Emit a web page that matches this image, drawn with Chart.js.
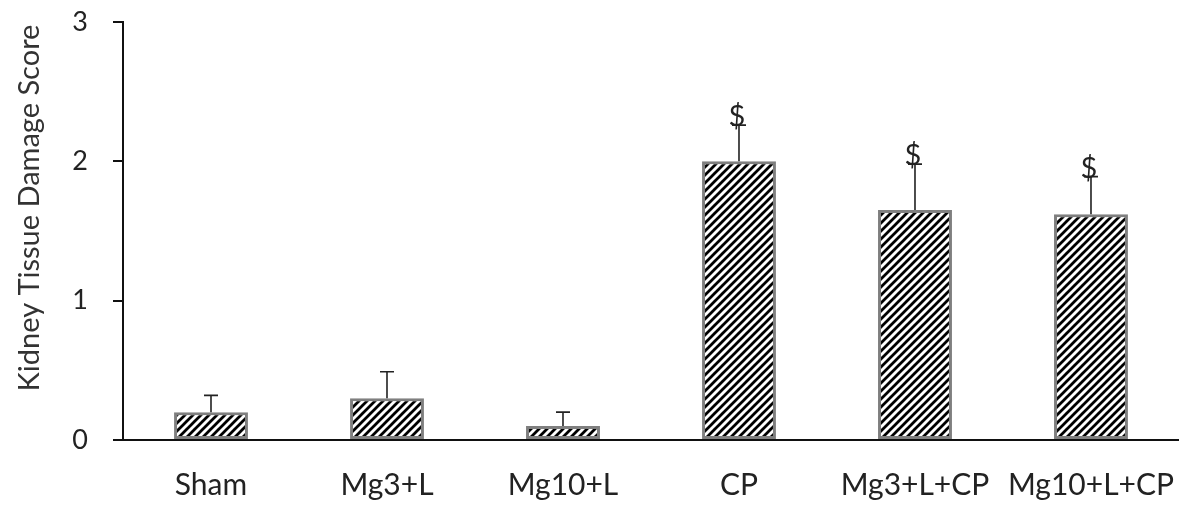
<!DOCTYPE html>
<html>
<head>
<meta charset="utf-8">
<script src="https://cdn.jsdelivr.net/npm/chart.js@4"></script>
<style>
  html, body { margin: 0; padding: 0; background: #fff; }
  #wrap { width: 1201px; height: 507px; }
</style>
</head>
<body>
<div id="wrap"><canvas id="damageChart" width="1201" height="507"></canvas></div>
<script>
// data
const groups = ["Sham", "Mg3+L", "Mg10+L", "CP", "Mg3+L+CP", "Mg10+L+CP"];
const damageScore = [0.2, 0.3, 0.1, 2.0, 1.65, 1.62];
const damageErr = [0.12, 0.19, 0.1, 0.26, 0.33, 0.27];
const marks = ["", "", "", "$", "$", "$"];
const yTicks = [0, 1, 2, 3];

// diagonal hatch fill
function makeHatch() {
  const c = document.createElement("canvas");
  c.width = 8;
  c.height = 8;
  const g = c.getContext("2d");
  g.fillStyle = "#fff";
  g.fillRect(0, 0, 8, 8);
  g.strokeStyle = "#000";
  g.lineWidth = 2.8;
  g.beginPath();
  g.moveTo(-2, 10); g.lineTo(10, -2);
  g.moveTo(-2, 2); g.lineTo(2, -2);
  g.moveTo(6, 10); g.lineTo(10, 6);
  g.stroke();
  return g.createPattern(c, "repeat");
}

// upper error bars and $ marks, positioned through the scales
const errorBars = {
  id: "errorBars",
  afterDatasetsDraw(chart) {
    const ctx = chart.ctx;
    const x = chart.scales.x;
    const y = chart.scales.y;
    ctx.save();
    damageScore.forEach((v, i) => {
      const px = x.getPixelForValue(i);
      const top = y.getPixelForValue(v);
      const hi = y.getPixelForValue(v + damageErr[i]);
      ctx.strokeStyle = "#222";
      ctx.lineWidth = 1.6;
      ctx.beginPath();
      ctx.moveTo(px, top);
      ctx.lineTo(px, hi);
      ctx.moveTo(px - 7, hi);
      ctx.lineTo(px + 7, hi);
      ctx.stroke();
      if (marks[i]) {
        ctx.fillStyle = "#222";
        ctx.font = "29px Lato";
        ctx.textAlign = "center";
        ctx.textBaseline = "alphabetic";
        ctx.fillText(marks[i], px - 2, hi + 1);
      }
    });
    ctx.restore();
  }
};

// y title drawn by hand so it can sit where the original has it
const yTitle = {
  id: "yTitle",
  afterDraw(chart) {
    const ctx = chart.ctx;
    ctx.save();
    ctx.translate(30, 208);
    ctx.rotate(-Math.PI / 2);
    ctx.fillStyle = "#333";
    ctx.font = "29px Lato";
    ctx.textAlign = "center";
    ctx.textBaseline = "middle";
    ctx.fillText("Kidney Tissue Damage Score", 0, 0);
    ctx.restore();
  }
};

const ctx = document.getElementById("damageChart").getContext("2d");
new Chart(ctx, {
  type: "bar",
  data: {
    labels: groups,
    datasets: [
      {
        data: damageScore,
        backgroundColor: makeHatch(),
        borderColor: "#7f7f7f",
        borderWidth: 3,
        borderSkipped: false,
        barPercentage: 0.42,
        categoryPercentage: 1.0
      }
    ]
  },
  options: {
    responsive: false,
    animation: false,
    layout: { padding: { top: 22, right: 0, left: 0, bottom: 0 } },
    plugins: {
      legend: { display: false },
      tooltip: { enabled: false }
    },
    scales: {
      x: {
        offset: true,
        grid: { display: false, drawTicks: false },
        border: { display: true, color: "#111", width: 2 },
        ticks: {
          color: "#222",
          font: { family: "Lato", size: 30 },
          padding: 27,
          maxRotation: 0,
          autoSkip: false
        },
        afterFit(scale) { scale.height = 67; }
      },
      y: {
        min: 0,
        max: 3,
        afterBuildTicks(scale) {
          scale.ticks = yTicks.map((v) => ({ value: v }));
        },
        grid: {
          drawOnChartArea: false,
          drawTicks: true,
          tickLength: 10,
          color: "#111",
          lineWidth: 2
        },
        border: { display: true, color: "#111", width: 2 },
        ticks: {
          color: "#222",
          font: { family: "Lato", size: 27 },
          padding: 25
        },
        afterFit(scale) {
          scale.width = 123;
          scale.paddingTop = 0;
          scale.paddingBottom = 0;
        }
      }
    }
  },
  plugins: [errorBars, yTitle]
});
</script>
</body>
</html>
